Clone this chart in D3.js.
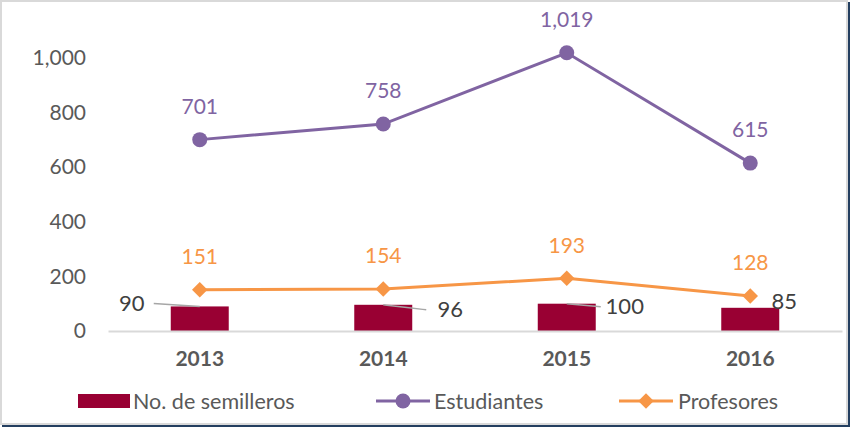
<!DOCTYPE html>
<html><head><meta charset="utf-8">
<script src="https://cdn.jsdelivr.net/npm/d3@7"></script>
<style>html,body{margin:0;padding:0;background:#fff;}svg{display:block;font-family:Lato,"Open Sans",sans-serif;}</style>
</head><body>
<svg id="c" width="850" height="427"></svg>
<script>
const categories = ["2013","2014","2015","2016"];
const semilleros = [90, 96, 100, 85];
const estudiantes = [701, 758, 1019, 615];
const profesores = [151, 154, 193, 128];
const yTicks = [0, 200, 400, 600, 800, 1000];
const seriesNames = ["No. de semilleros", "Estudiantes", "Profesores"];
// label placement offsets for bar labels (style, not data)
const barLabelOffsets = [[-68, -3], [67, 5], [58, 3], [34, -6]];

const colBar = "#990033", colEst = "#8064a2", colProf = "#f79646";
const svg = d3.select("#c");

// frame
svg.append("rect").attr("x",847).attr("y",2).attr("width",3).attr("height",425).attr("fill","#243f60");
svg.append("rect").attr("x",2).attr("y",424).attr("width",848).attr("height",3).attr("fill","#243f60");
svg.append("rect").attr("x",1).attr("y",1).attr("width",846).attr("height",423)
  .attr("fill","#fff").attr("stroke","#d9d9d9").attr("stroke-width",2);

const x = d3.scaleBand().domain(categories).range([108, 842]).paddingInner(0.684).paddingOuter(0.342);
const y = d3.scaleLinear().domain([0, 1000]).range([331, 58]);
const cx = c => x(c) + x.bandwidth()/2;

// y axis labels
const yAxis = svg.append("g").attr("transform","translate(86,0)")
  .call(d3.axisLeft(y).tickValues(yTicks).tickSize(0).tickPadding(0).tickFormat(d3.format(",")));
yAxis.select(".domain").remove();
yAxis.selectAll("text").attr("fill","#595959").attr("font-size",21).attr("font-family","Lato");

// bars
svg.selectAll("rect.bar").data(semilleros).enter().append("rect").attr("class","bar")
  .attr("x",(d,i)=>x(categories[i])).attr("width",x.bandwidth())
  .attr("y",d=>y(d)).attr("height",d=>y(0)-y(d)).attr("fill",colBar);

// x axis
const xAxis = svg.append("g").attr("transform","translate(0,331)")
  .call(d3.axisBottom(x).tickSize(0).tickPadding(20));
xAxis.select(".domain").attr("stroke","#d9d9d9").attr("stroke-width",2);
xAxis.selectAll("text").attr("fill","#595959").attr("font-size",21).attr("font-weight","bold").attr("font-family","Lato");

// bar labels with leader lines
semilleros.forEach((v,i)=>{
  const px = cx(categories[i]), py = y(v);
  const [dx,dy] = barLabelOffsets[i];
  const lx = px+dx, ly = py+dy;
  if (i < 3) {
    const endX = dx < 0 ? lx + 22 : lx - 24;
    svg.append("path").attr("d", d3.line().curve(d3.curveBasis)([[px,py],[ (px+endX)/2, (py+ly)/2 ],[endX, ly]]))
      .attr("fill","none").attr("stroke","#a6a6a6").attr("stroke-width",1.5);
  }
  svg.append("text").attr("x",lx).attr("y",ly).attr("dy","0.35em").attr("text-anchor","middle")
    .attr("font-size",22).attr("fill","#404040").text(d3.format(",")(v));
});

// lines
const line = d3.line().x((d,i)=>cx(categories[i])).y(d=>y(d));
svg.append("path").datum(profesores).attr("d",line).attr("fill","none").attr("stroke",colProf).attr("stroke-width",3);
svg.append("path").datum(estudiantes).attr("d",line).attr("fill","none").attr("stroke",colEst).attr("stroke-width",3);

svg.selectAll("path.dm").data(profesores).enter().append("path").attr("class","dm")
  .attr("d", d3.symbol().type(d3.symbolSquare).size(120))
  .attr("transform",(d,i)=>`translate(${cx(categories[i])},${y(d)}) rotate(45)`).attr("fill",colProf);
svg.selectAll("circle.pt").data(estudiantes).enter().append("circle").attr("class","pt")
  .attr("cx",(d,i)=>cx(categories[i])).attr("cy",d=>y(d)).attr("r",7.5).attr("fill",colEst);

// line labels
svg.selectAll("text.le").data(estudiantes).enter().append("text").attr("class","le")
  .attr("x",(d,i)=>cx(categories[i])).attr("y",d=>y(d)-33).attr("dy","0.35em").attr("text-anchor","middle")
  .attr("font-size",21).attr("fill",colEst).text(d=>d3.format(",")(d));
svg.selectAll("text.lp").data(profesores).enter().append("text").attr("class","lp")
  .attr("x",(d,i)=>cx(categories[i])).attr("y",d=>y(d)-33).attr("dy","0.35em").attr("text-anchor","middle")
  .attr("font-size",21).attr("fill",colProf).text(d=>d3.format(",")(d));

// legend
const ly = 401;
const lg = svg.append("g");
lg.append("rect").attr("x",78).attr("y",ly-7).attr("width",52).attr("height",14).attr("fill",colBar);
lg.append("text").attr("x",133).attr("y",ly).attr("dy","0.35em").attr("font-size",21.5).attr("fill","#595959").text(seriesNames[0]);
lg.append("line").attr("x1",376).attr("x2",430).attr("y1",ly).attr("y2",ly).attr("stroke",colEst).attr("stroke-width",3);
lg.append("circle").attr("cx",403).attr("cy",ly).attr("r",7.5).attr("fill",colEst);
lg.append("text").attr("x",434).attr("y",ly).attr("dy","0.35em").attr("font-size",21.5).attr("fill","#595959").text(seriesNames[1]);
lg.append("line").attr("x1",619).attr("x2",673).attr("y1",ly).attr("y2",ly).attr("stroke",colProf).attr("stroke-width",3);
lg.append("path").attr("d", d3.symbol().type(d3.symbolSquare).size(120)).attr("transform",`translate(646,${ly}) rotate(45)`).attr("fill",colProf);
lg.append("text").attr("x",678).attr("y",ly).attr("dy","0.35em").attr("font-size",21.5).attr("fill","#595959").text(seriesNames[2]);
</script>
</body></html>
